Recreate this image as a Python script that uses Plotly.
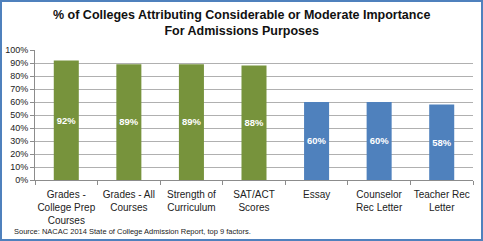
import plotly.graph_objects as go

categories = ["Grades -<br>College Prep<br>Courses", "Grades - All<br>Courses", "Strength of<br>Curriculum",
              "SAT/ACT<br>Scores", "Essay", "Counselor<br>Rec Letter", "Teacher Rec<br>Letter"]
values = [0.92, 0.89, 0.89, 0.88, 0.60, 0.60, 0.58]
labels = ["92%", "89%", "89%", "88%", "60%", "60%", "58%"]
colors = ["#77933C"] * 4 + ["#4F81BD"] * 3

W, H = 483, 241
L, R, T, B = 35, 10, 50, 61

fig = go.Figure(go.Bar(
    x=categories, y=values, marker=dict(color=colors, line=dict(width=0)),
    text=labels, textposition="inside", insidetextanchor="middle", textangle=0,
    textfont=dict(color="white", size=10, family="Liberation Sans", weight="bold"),
    width=0.4, hoverinfo="skip", cliponaxis=False,
))

pw = W - L - R
ph = H - T - B
def px(x): return (x - L) / pw
def py(y): return (H - B - y) / ph

fig.update_layout(
    width=W, height=H, margin=dict(l=L, r=R, t=T, b=B, autoexpand=False),
    paper_bgcolor="white", plot_bgcolor="white",
    font=dict(family="Liberation Sans", color="#222222"),
    showlegend=False,
    xaxis=dict(showline=True, linecolor="#8c8c8c", linewidth=1, ticks="outside", tickson="boundaries",
               ticklen=4, tickcolor="#8c8c8c", tickfont=dict(size=10, color="#222222"), tickangle=0,
               ticklabelstandoff=5, automargin=False, fixedrange=True),
    yaxis=dict(range=[0, 1], dtick=0.1, tickformat=".0%", showline=True, linecolor="#8c8c8c",
               ticks="outside", ticklen=4, tickcolor="#8c8c8c", gridcolor="#b0b0b0", gridwidth=1,
               tickfont=dict(size=9, color="#222222"), zeroline=False, automargin=False),
    shapes=[dict(type="rect", xref="paper", yref="paper",
                 x0=px(1), x1=px(482), y0=py(240), y1=py(1),
                 line=dict(color="#4F81BD", width=2), fillcolor="rgba(0,0,0,0)", layer="above")],
    annotations=[
        dict(text="<b>% of Colleges Attributing Considerable or Moderate Importance<br>For Admissions Purposes</b>",
             xref="paper", yref="paper", x=px(241), y=py(23), xanchor="center", yanchor="middle",
             showarrow=False, font=dict(size=12.5, color="#111111")),
        dict(text="Source: NACAC 2014 State of College Admission Report, top 9 factors.",
             xref="paper", yref="paper", x=px(12), y=py(231.5), xanchor="left", yanchor="middle",
             showarrow=False, font=dict(size=7.5, color="#222222")),
    ],
)

fig.write_html("out.html")
